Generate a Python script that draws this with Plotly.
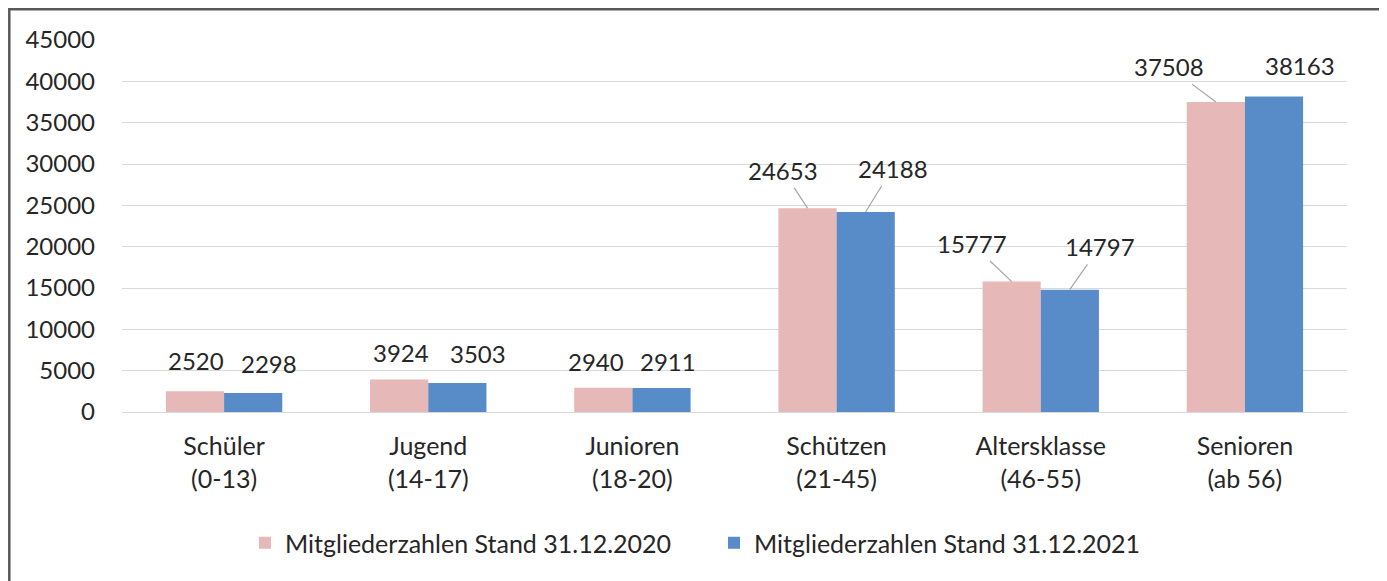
import plotly.graph_objects as go

categories = ["Schüler<br>(0-13)", "Jugend<br>(14-17)", "Junioren<br>(18-20)",
              "Schützen<br>(21-45)", "Altersklasse<br>(46-55)", "Senioren<br>(ab 56)"]
series_2020_name = "Mitgliederzahlen Stand 31.12.2020"
series_2021_name = "Mitgliederzahlen Stand 31.12.2021"
values_2020 = [2520, 3924, 2940, 24653, 15777, 37508]
values_2021 = [2298, 3503, 2911, 24188, 14797, 38163]
y_ticks = [0, 5000, 10000, 15000, 20000, 25000, 30000, 35000, 40000, 45000]
y_tick_labels = [str(v) for v in y_ticks]

# label styling (pixel offsets of the value labels from the bar tops, leader flag)
label_style_2020 = [(1, -31, False), (2, -27, False), (-7, -26, False),
                    (-25, -38, True), (-40, -38, True), (-47, -35, True)]
label_style_2021 = [(16, -30, False), (21, -30, False), (7, -26, False),
                    (27, -44, True), (30, -43, True), (26, -31, False)]

FONT = "Lato"
TXT = "#262626"
PINK = "#E6B8B7"
BLUE = "#588CC8"
FS = 24

fig = go.Figure()
fig.add_trace(go.Bar(x=categories, y=values_2020, name=series_2020_name,
                     marker=dict(color=PINK, line=dict(width=0))))
fig.add_trace(go.Bar(x=categories, y=values_2021, name=series_2021_name,
                     marker=dict(color=BLUE, line=dict(width=0))))

half = 29  # half bar width in px
for vals, styles, shift in ((values_2020, label_style_2020, -half),
                            (values_2021, label_style_2021, half)):
    for cat, v, (ax, ay, leader) in zip(categories, vals, styles):
        fig.add_annotation(
            x=cat, y=v, xref="x", yref="y", text=str(v),
            xshift=shift, showarrow=True, arrowhead=0, arrowwidth=1.2,
            arrowcolor="#A6A6A6" if leader else "rgba(0,0,0,0)",
            ax=ax, ay=ay, standoff=0, startstandoff=2,
            font=dict(family=FONT, size=FS, color=TXT))

# the page body adds an 8px offset; figure coords = screen coords - 8
OFF = 8
W, H = 1379, 573
L, R, T, B = 114, 40, 32, 169
pw, ph = W - L - R, H - T - B

def px_x(p):
    return (p - OFF - L) / pw

def px_y(p):
    return (H - B - (p - OFF)) / ph

fig.add_shape(type="rect", xref="paper", yref="paper",
              x0=px_x(9.3), x1=px_x(1381), y0=px_y(600), y1=px_y(9.3),
              line=dict(color="#595959", width=2.5), fillcolor="rgba(0,0,0,0)")

fig.update_layout(
    width=W, height=H,
    margin=dict(l=L, r=R, t=T, b=B, autoexpand=False),
    paper_bgcolor="white", plot_bgcolor="white",
    barmode="group", bargap=0.43, bargroupgap=0,
    font=dict(family=FONT, size=FS, color=TXT),
    showlegend=True,
    legend=dict(orientation="h", x=px_x(714), xanchor="center",
                y=px_y(543), yanchor="middle", entrywidth=424,
                entrywidthmode="pixels",
                font=dict(family=FONT, size=25, color=TXT)),
    xaxis=dict(showgrid=False, showline=False, ticks="", ticklabelstandoff=17,
               automargin=False,
               tickfont=dict(family=FONT, size=25, color=TXT)),
    yaxis=dict(range=[0, 45000], tickvals=y_ticks, ticktext=y_tick_labels,
               showgrid=True, automargin=False,
               gridcolor="#D9D9D9", gridwidth=1.3, zeroline=True,
               zerolinecolor="#D9D9D9", zerolinewidth=1.3, showline=False,
               ticks="", ticklabelstandoff=26,
               tickfont=dict(family=FONT, size=FS, color=TXT)),
)

fig.write_html("out.html")
